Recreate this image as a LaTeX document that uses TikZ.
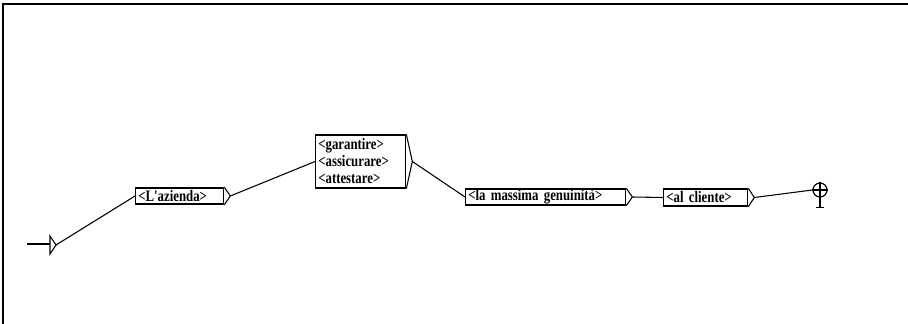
\documentclass[tikz,border=0pt]{standalone}
\usepackage{fontspec}
\setmainfont{Liberation Serif}
\newfontfamily\gfont[FakeStretch=0.8]{Liberation Serif}
\usetikzlibrary{positioning}
\tikzset{
	gbox/.style={draw, line width=1pt, anchor=west, inner xsep=2pt, inner ysep=0.5pt, align=left, font=\gfont\fontsize{12}{12.75}\selectfont\bfseries},
	gline/.style={line width=0.8pt},
}

\begin{document}
\begin{tikzpicture}[x=0.75pt, y=-0.75pt]
	\useasboundingbox (0,0) rectangle (908,324);
	% frame
	\draw[line width=1.5pt] (3,324) -- (3,4) -- (908,4);
	
	% boxes
	\node[gbox, text width=62pt, minimum height=12pt] (azienda) at (135,196) {<L'azienda>};
	\node[gbox, text width=63.5pt, minimum height=39.75pt] (verbi) at (315,161.5) {<garantire>\\<assicurare>\\<attestare>};
	\node[gbox, text width=116pt, minimum height=12pt] (massima) at (465,197) {<la massima genuinità>};
	\node[gbox, text width=59pt, minimum height=12.75pt] (cliente) at (663,197.5) {<al cliente>};
	\foreach \n in {azienda,verbi,massima,cliente}
		\draw[gline] (\n.north east) -- ([xshift=4.5pt]\n.east) coordinate (\n-tip) -- (\n.south east);
	
	% initial and final state
	\coordinate (start) at (56,245);
	\draw[line width=1.2pt] (27,244) -- (50,244);
	\draw[gline] (50,236) -- (start) -- (50,254) -- cycle;
	\node[circle, draw, line width=0.9pt, minimum size=10.5pt, inner sep=0pt] (final) at (820,190) {};
	\draw[gline] (final.north) -- (final.south) -- ++(0,10) coordinate (foot);
	\draw[gline] (final.west) -- (final.east);
	\draw[gline] ([xshift=-3pt]foot) -- ([xshift=3pt]foot);
	
	% transitions
	\draw[gline] (start) -- (azienda.west);
	\draw[gline] (azienda-tip) -- (verbi.west);
	\draw[gline] (verbi-tip) -- (massima.west);
	\draw[gline] (massima-tip) -- (cliente.west);
	\draw[gline] (cliente-tip) -- (final.west);
\end{tikzpicture}
\end{document}
